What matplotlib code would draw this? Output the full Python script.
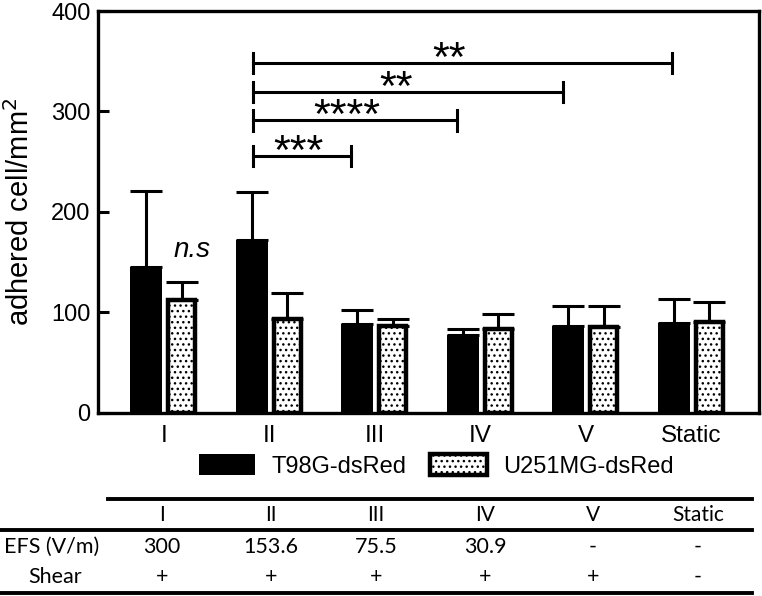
import numpy as np
import matplotlib
matplotlib.use('Agg')
import matplotlib.pyplot as plt
from matplotlib.lines import Line2D

plt.rcParams['font.family'] = ['Liberation Sans', 'DejaVu Sans']

# Données du graphique
conditions = ['I', 'II', 'III', 'IV', 'V', 'Static']
t98g = [145, 172, 88, 77, 86.5, 89.5]
t98g_err = [76, 48, 14, 6.5, 19.5, 23.5]
u251 = [112, 93, 86, 83, 85, 90]
u251_err = [18, 26, 7, 15, 21, 20]

# Comparaisons significatives (II contre III, IV, V, Static)
sig_start = 0.84
sig_end = [1.773, 2.774, 3.779, 4.818]
sig_height = [256, 291, 319, 348]
sig_label = ['***', '****', '**', '**']
sig_label_x = [1.27, 1.735, 2.20, 2.70]

# Tableau des conditions
table_cols = ['I', 'II', 'III', 'IV', 'V', 'Static']
efs_values = ['300', '153.6', '75.5', '30.9', '-', '-']
shear_values = ['+', '+', '+', '+', '+', '-']

W, H = 762, 596
fig = plt.figure(figsize=(W / 100, H / 100), dpi=100)
ax = fig.add_axes([97.5 / W, 1 - 412.7 / H, (759 - 97.5) / W, (412.7 - 11) / H])

x = np.arange(len(conditions))
off = 0.17
ax.bar(x - off, t98g, width=0.303, color='black', edgecolor='none',
       label='T98G-dsRed', zorder=2)
ax.bar(x + off, u251, width=0.256, color='white', edgecolor='black',
       linewidth=3.2, hatch='...', label='U251MG-dsRed', zorder=2)

ekw = dict(fmt='none', ecolor='black', elinewidth=2.2, capsize=11.5,
           capthick=2.2, zorder=3)
ax.errorbar(x - off, t98g, yerr=[np.zeros(len(t98g)), t98g_err], **ekw)
ax.errorbar(x + off, u251, yerr=[np.zeros(len(u251)), u251_err], **ekw)

# Crochets de significativité
for xe, yh, lab, xl in zip(sig_end, sig_height, sig_label, sig_label_x):
    ax.plot([sig_start, xe], [yh, yh], color='black', lw=2.2, zorder=4)
    ax.plot([sig_start, sig_start], [yh - 10, yh + 10], color='black', lw=2.2, zorder=4)
    ax.plot([xe, xe], [yh - 10, yh + 10], color='black', lw=2.2, zorder=4)
    ax.text(xl, yh - 8, lab, ha='center', va='baseline', fontsize=31)

ax.text(0.27, 162, 'n.s', ha='center', va='center', fontsize=20, style='italic')

ax.set_xlim(-0.63, 5.64)
ax.set_ylim(0, 400)
ax.set_yticks([0, 100, 200, 300, 400])
ax.set_xticks(x)
ax.set_xticklabels(conditions)
ax.tick_params(axis='y', direction='in', length=8, width=2.2, labelsize=17, pad=5)
ax.tick_params(axis='x', length=0, labelsize=17.5, pad=9)
for s in ax.spines.values():
    s.set_linewidth(2.4)
ax.set_ylabel('adhered cell/mm$^2$', fontsize=21)
ax.yaxis.set_label_coords(-0.095, 0.5)

fig.legend(loc='center', bbox_to_anchor=(436 / W, 1 - 466 / H), ncol=2,
           frameon=False, fontsize=17, handlelength=2.4, handleheight=1.0,
           handletextpad=0.68, columnspacing=1.0)

# Tableau sous le graphique
tfont = ['Lato', 'DejaVu Sans']
col_x = [162, 271, 376, 485, 593, 698]
def fx(px):
    return px / W
def fy(py):
    return 1 - py / H

for cx, c in zip(col_x, table_cols):
    fig.text(fx(cx), fy(515), c, ha='center', va='center', fontsize=15, family=tfont)
fig.text(fx(52), fy(547), 'EFS (V/m)', ha='center', va='center', fontsize=15.5, family=tfont)
fig.text(fx(55), fy(577), 'Shear', ha='center', va='center', fontsize=15.5, family=tfont)
for cx, v in zip(col_x, efs_values):
    fig.text(fx(cx), fy(547), v, ha='center', va='center', fontsize=15.5, family=tfont)
for cx, v in zip(col_x, shear_values):
    fig.text(fx(cx), fy(577), v, ha='center', va='center', fontsize=15.5, family=tfont)

for x0, x1, yy in [(108, 752, 499), (0, 752, 530), (0, 752, 593)]:
    fig.add_artist(Line2D([fx(x0), fx(x1)], [fy(yy), fy(yy)], color='black', lw=2.8,
                          transform=fig.transFigure))

plt.savefig('out.png', dpi=100)
